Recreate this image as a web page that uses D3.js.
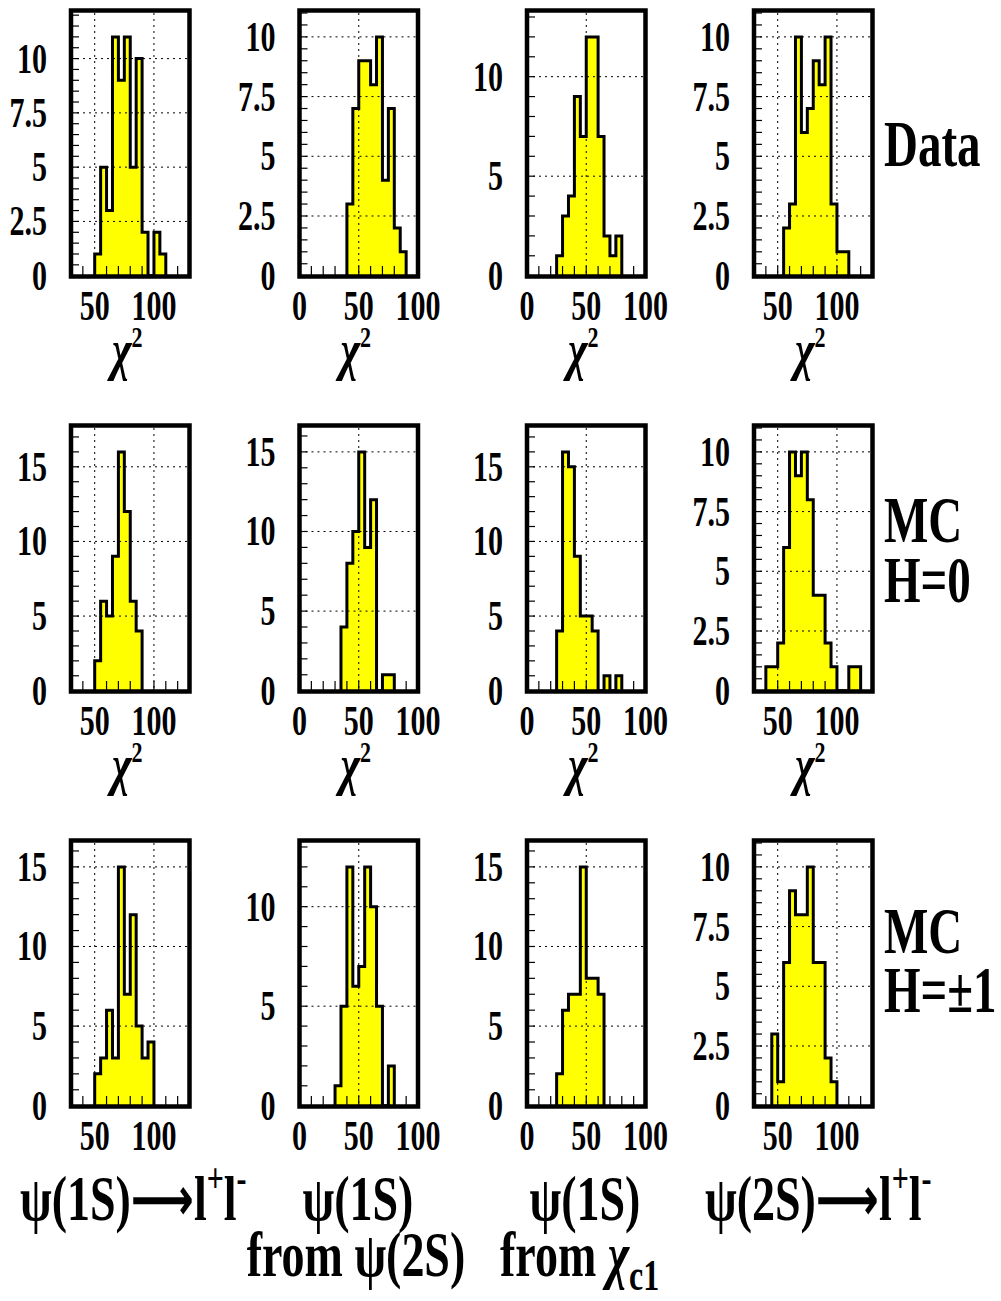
<!DOCTYPE html>
<html><head><meta charset="utf-8">
<script src="https://cdn.jsdelivr.net/npm/d3@7"></script>
<style>body{margin:0;background:#fff}</style>
</head><body><svg id="c" width="1001" height="1301"></svg>
<script>
// ---------------- data ----------------
const rowNames = [["Data"], ["MC", "H=0"], ["MC", "H=±1"]];
const xDomains = [[30, 130], [0, 100], [0, 100], [30, 130]];
const xTickValues = [[50, 100], [0, 50, 100], [0, 50, 100], [50, 100]];
const binWidth = 5;
const firstEdgeData = [50, 40, 25, 55];
const firstEdgeMCH0 = [50, 35, 25, 40];
const firstEdgeMCH1 = [50, 30, 25, 45];
const countsData = [
  [1, 5, 3, 11, 9, 11, 5, 10, 2, 0, 2, 1],
  [3, 7, 9, 9, 8, 10, 4, 7, 2, 1],
  [1, 3, 4, 9, 7, 12, 12, 7, 2, 1, 2],
  [2, 3, 10, 6, 7, 9, 8, 10, 3, 1, 1]
];
const countsMCH0 = [
  [2, 6, 5, 9, 16, 12, 6, 4],
  [4, 8, 10, 15, 9, 12, 0, 1, 1],
  [4, 16, 15, 9, 5, 5, 4, 0, 1, 0, 1],
  [1, 1, 2, 6, 10, 9, 10, 8, 4, 4, 2, 1, 0, 0, 1, 1]
];
const countsMCH1 = [
  [2, 3, 6, 3, 15, 7, 12, 5, 3, 4],
  [1, 5, 12, 6, 7, 12, 10, 5, 0, 2],
  [2, 6, 7, 7, 15, 8, 8, 7],
  [3, 1, 6, 9, 8, 8, 10, 6, 6, 2, 1]
];
const yMajorStep = [[2.5, 2.5, 5, 2.5], [5, 5, 5, 2.5], [5, 5, 5, 2.5]];
const yMinorStep = [[0.5, 0.5, 1, 0.5], [1, 1, 1, 0.5], [1, 1, 1, 0.5]];

// ---------------- layout ----------------
const colLeft = [71, 299.5, 527, 754];
const plotW = 118.5;
const rowTop = [0, 415, 830];
const SY = 1.38;
const FONT = "'Liberation Serif', 'Times New Roman', serif";
const svg = d3.select("#c");

function sText(parent, x, y, size, anchor, sy) {
  const g = parent.append("g").attr("transform", `translate(${x},${y}) scale(1,${sy || SY})`);
  return g.append("text")
    .attr("text-anchor", anchor)
    .attr("font-family", FONT)
    .attr("font-weight", "bold")
    .attr("font-size", size)
    .attr("fill", "#000");
}

const allCounts = [countsData, countsMCH0, countsMCH1];
const allEdges = [firstEdgeData, firstEdgeMCH0, firstEdgeMCH1];

allCounts.forEach((rowCounts, r) => {
  rowCounts.forEach((counts, c) => {
    const top = rowTop[r];
    const x0 = colLeft[c];
    const ymax = d3.max(counts) * 1.1;
    const x = d3.scaleLinear().domain(xDomains[c]).range([x0, x0 + plotW]);
    const y = d3.scaleLinear().domain([0, ymax]).range([top + 275.7, top + 13]);
    const g = svg.append("g");

    // histogram
    const start = allEdges[r][c];
    const pts = [[start, 0]];
    counts.forEach((v, i) => {
      pts.push([start + i * binWidth, v]);
      pts.push([start + (i + 1) * binWidth, v]);
    });
    pts.push([start + counts.length * binWidth, 0]);
    const line = d3.line().x(d => x(d[0])).y(d => y(d[1]));
    g.append("path").attr("d", line(pts))
      .attr("fill", "#ffff00").attr("stroke", "#000")
      .attr("stroke-width", 3).attr("stroke-linejoin", "miter");

    // grid
    const [d0, d1] = xDomains[c];
    xTickValues[c].forEach(v => {
      g.append("line").attr("x1", x(v)).attr("x2", x(v))
        .attr("y1", top + 13).attr("y2", top + 275.7)
        .attr("stroke", "#000").attr("stroke-width", 1).attr("stroke-dasharray", "2,4");
    });
    const yMaj = d3.range(0, ymax + 1e-9, yMajorStep[r][c]);
    yMaj.forEach(v => {
      if (v === 0) return;
      g.append("line").attr("x1", x0).attr("x2", x0 + plotW)
        .attr("y1", y(v)).attr("y2", y(v))
        .attr("stroke", "#000").attr("stroke-width", 1).attr("stroke-dasharray", "2,4");
    });

    // ticks
    const yMin = d3.range(0, ymax + 1e-9, yMinorStep[r][c]);
    yMin.forEach(v => {
      g.append("line").attr("x1", x0).attr("x2", x0 + 8)
        .attr("y1", y(v)).attr("y2", y(v))
        .attr("stroke", "#000").attr("stroke-width", 1.2);
    });
    d3.range(Math.ceil(d0 / 10) * 10, d1 + 1e-9, 10).forEach(v => {
      g.append("line").attr("x1", x(v)).attr("x2", x(v))
        .attr("y1", top + 275.7).attr("y2", top + 266)
        .attr("stroke", "#000").attr("stroke-width", 1.2);
    });

    // frame
    g.append("rect").attr("x", x0).attr("y", top + 10.5)
      .attr("width", plotW).attr("height", 266)
      .attr("fill", "none").attr("stroke", "#000").attr("stroke-width", 4.5);

    // tick labels
    yMaj.forEach(v => {
      sText(g, x0 - 24, y(v) + 14, 30, "end").text(String(v));
    });
    xTickValues[c].forEach(v => {
      sText(g, x(v), top + 320, 30, "middle").text(String(v));
    });

    // chi2 label
    if (r < 2) {
      const t = sText(g, x0 + plotW / 2 - 3, top + 369, 42, "middle");
      t.append("tspan").attr("font-style", "italic").text("χ");
      t.append("tspan").attr("font-size", 22).attr("dy", -16).text("2");
    }
  });
});

// row labels
const rowLabelBase = [[166], [542, 602], [953, 1012]];
rowNames.forEach((lines, r) => {
  lines.forEach((s, i) => {
    sText(svg, 884, rowLabelBase[r][i], 47, "start").text(s);
  });
});

// column labels
function decay(parent, x, y, psi) {
  const t = sText(parent, x, y, 46, "start");
  t.append("tspan").text(psi);
  t.append("tspan").attr("font-size", 44).attr("font-family", "'DejaVu Sans'").attr("font-weight", "bold").text("⟶");
  t.append("tspan").text("l");
  t.append("tspan").attr("font-size", 30).attr("dy", -20).text("+");
  t.append("tspan").attr("dy", 20).text("l");
  t.append("tspan").attr("font-size", 30).attr("dy", -20).text("-");
}
decay(svg, 20, 1220, "ψ(1S)");
decay(svg, 705, 1220, "ψ(2S)");
sText(svg, 358, 1220, 46, "middle").text("ψ(1S)");
sText(svg, 356, 1276, 46, "middle").text("from ψ(2S)");
sText(svg, 585, 1220, 46, "middle").text("ψ(1S)");
const fc = sText(svg, 500, 1276, 46, "start");
fc.append("tspan").text("from ");
fc.append("tspan").attr("font-style", "italic").text("χ");
fc.append("tspan").attr("font-size", 32).attr("dy", 10).text("c1");
</script></body></html>
